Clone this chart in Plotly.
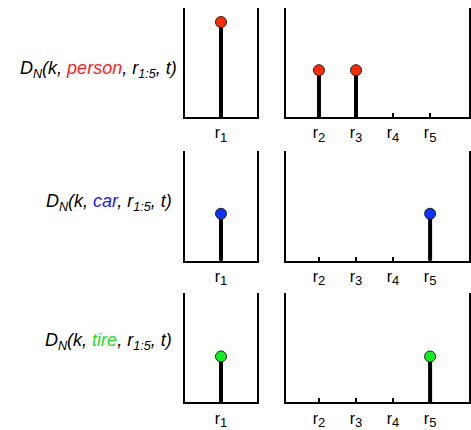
import plotly.graph_objects as go

# ---- data ----
regions = ["r1", "r2", "r3", "r4", "r5"]
objects = ["person", "car", "tire"]
person_vals = [0.87, 0.43, 0.43, 0.0, 0.0]
car_vals = [0.43, 0.0, 0.0, 0.0, 0.43]
tire_vals = [0.42, 0.0, 0.0, 0.0, 0.42]

# ---- style ----
W, H = 471, 430
text_colors = {"person": "#ff1a1a", "car": "#1a1aff", "tire": "#22e022"}
dot_colors = {"person": "#ff2a00", "car": "#0a33ff", "tire": "#11ee22"}
row_vals = [person_vals, car_vals, tire_vals]

def tick_text(name):
    return f"r<sub><span style='font-size:13px'>{name[1:]}</span></sub>"

# panel pixel geometry (top, bottom) per row; columns (x0, x1)
rows_px = [(8, 120), (155, 267), (300, 412)]
left_px = (185, 257)
right_px = (286, 469)
label_pos = [(179, 71), (174, 207), (174, 350)]

def xd(a, b):
    return [a / W, b / W]

def yd(top, bottom):
    return [1 - bottom / H, 1 - top / H]

fig = go.Figure()
layout = dict(
    width=W, height=H, margin=dict(l=0, r=0, t=0, b=0, pad=0),
    paper_bgcolor="white", plot_bgcolor="white", showlegend=False,
    font=dict(family="Liberation Sans, Arial, sans-serif", color="black"),
)

axis_n = 0
annotations = []
for r, (obj, vals) in enumerate(zip(objects, row_vals)):
    top, bottom = rows_px[r]
    for col, (cats_idx, px, rng) in enumerate([
        ([0], left_px, [-1.0, 1.0]),
        ([1, 2, 3, 4], right_px, [-0.89, 4.05]),
    ]):
        axis_n += 1
        xa = "x" if axis_n == 1 else f"x{axis_n}"
        ya = "y" if axis_n == 1 else f"y{axis_n}"
        cats = [regions[i] for i in cats_idx]
        xs, ys, dx, dy = [], [], [], []
        for i in cats_idx:
            if vals[i] > 0:
                xs += [regions[i], regions[i], None]
                ys += [0, vals[i], None]
                dx.append(regions[i])
                dy.append(vals[i])
        fig.add_trace(go.Scatter(
            x=xs, y=ys, mode="lines", xaxis=xa, yaxis=ya,
            line=dict(color="black", width=4), hoverinfo="skip",
        ))
        fig.add_trace(go.Scatter(
            x=dx, y=dy, mode="markers", xaxis=xa, yaxis=ya,
            marker=dict(size=11, color=dot_colors[obj],
                        line=dict(color="#222222", width=1)),
        ))
        key = "" if axis_n == 1 else str(axis_n)
        layout["xaxis" + key] = dict(
            domain=xd(*px), anchor=ya, type="category",
            categoryorder="array", categoryarray=cats, range=rng,
            tickmode="array", tickvals=cats, ticktext=[tick_text(c) for c in cats],
            showline=True, linecolor="black", linewidth=2,
            ticks="inside", ticklen=4, tickwidth=2, tickcolor="black",
            showgrid=False, zeroline=False,
            tickfont=dict(size=16, color="black"),
        )
        layout["yaxis" + key] = dict(
            domain=yd(top, bottom), anchor=xa, range=[0, 1],
            showline=True, mirror=True, linecolor="black", linewidth=2,
            showticklabels=False, ticks="", showgrid=False, zeroline=False,
        )
    lx, ly = label_pos[r]
    annotations.append(dict(
        xref="paper", yref="paper", x=lx / W, y=1 - ly / H,
        xanchor="right", yanchor="middle", showarrow=False,
        text=(f"<i>D<sub>N</sub>(k, <span style='color:{text_colors[obj]}'>{obj}</span>, "
              f"r<sub>1:5</sub>, t)</i>"),
        font=dict(size=18, color="black"),
    ))

layout["annotations"] = annotations
fig.update_layout(**layout)
page_js = (
    "document.documentElement.style.margin='0';document.documentElement.style.overflow='hidden';"
    "document.body.style.margin='0';document.body.style.overflow='hidden';"
)
fig.write_html("out.html", config={"displayModeBar": False}, post_script=page_js)
